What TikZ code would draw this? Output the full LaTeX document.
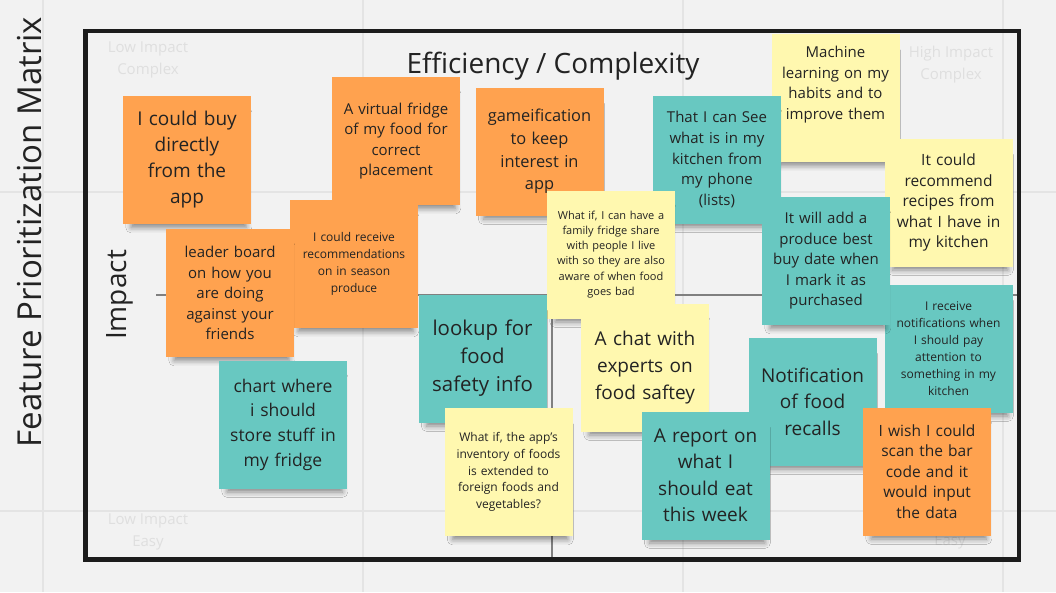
\documentclass[tikz,border=0pt]{standalone}
\usepackage{fontspec}
\setmainfont{Open Sans}
\usetikzlibrary{shadows.blur}

\definecolor{boardbg}{HTML}{F2F2F2}
\definecolor{gridgray}{HTML}{E4E4E4}
\definecolor{faintgray}{HTML}{DFDFDF}
\definecolor{axisgray}{HTML}{808080}
\definecolor{framedark}{HTML}{1C1C1C}
\definecolor{notetext}{HTML}{232323}
\definecolor{noteorange}{HTML}{FFA24F}
\definecolor{noteteal}{HTML}{68C8C1}
\definecolor{noteyellow}{HTML}{FFF8AF}

\newcommand{\notefont}[2]{\fontsize{#1}{#2}\selectfont}

\begin{document}
\begin{tikzpicture}[x=1pt,y=-1pt,
  sticky/.style={minimum width=128pt,minimum height=128pt,inner sep=0pt,
    text width=124pt,align=center,text=notetext,
    blur shadow={shadow xshift=2pt,shadow yshift=-11pt,shadow scale=0.9,shadow blur radius=6pt,shadow opacity=45}},
  orangenote/.style={sticky,fill=noteorange},
  tealnote/.style={sticky,fill=noteteal},
  yellownote/.style={sticky,fill=noteyellow},
  faint/.style={text=faintgray,align=center,font=\notefont{15}{22}},
  heading/.style={text=notetext,font=\notefont{28}{34}}]

\useasboundingbox (0,0) rectangle (1056,592);
\fill[boardbg] (0,0) rectangle (1056,592);

\foreach \gx in {43,363,683,1003}
  \draw[gridgray,line width=2pt] (\gx,0) -- (\gx,592);
\foreach \gy in {192,511}
  \draw[gridgray,line width=2pt] (0,\gy) -- (1056,\gy);

\node[faint] (lowcomplex) at (148,60) {Low Impact\\Complex};
\node[faint] (highcomplex) at (951,65) {High Impact\\Complex};
\node[faint] (loweasy) at (148,532) {Low Impact\\Easy};
\node[faint] (higheasy) at (950,542) {Easy};

\draw[axisgray,line width=2.5pt] (156,295) -- (1017,295);
\draw[axisgray,line width=2.5pt] (552,120) -- (552,557);
\draw[framedark,line width=4.5pt] (85.5,31) rectangle (1019,559.5);

\node[heading] (effort) at (553,66) {Efficiency / Complexity};
\node[heading,rotate=90] (impact) at (120,295) {Impact};
\node[text=notetext,font=\notefont{33}{40},rotate=90] (matrixtitle) at (30,232) {Feature Prioritization Matrix};

\node[orangenote,font=\notefont{15}{20.3}] (virtual) at (396,141) {A virtual fridge\\of my food for\\correct\\placement};
\node[orangenote,font=\notefont{19}{26}] (buy) at (187,160) {I could buy\\directly\\from the\\app};
\node[orangenote,font=\notefont{12}{17}] (season) at (354,264) {I could receive\\recommendations\\on in season\\produce};
\node[orangenote,font=\notefont{15}{20.5}] (leader) at (230,293) {leader board\\on how you\\are doing\\against your\\friends};
\node[tealnote,font=\notefont{17.5}{24.7}] (chart) at (283,424.5) {chart where\\i should\\store stuff in\\my fridge};
\node[orangenote,font=\notefont{16.4}{22.7}] (game) at (539.5,151.5) {gameification\\to keep\\interest in\\app};
\node[yellownote,font=\notefont{15}{20.5}] (machine) at (835.5,98) {Machine\\learning on my\\habits and to\\improve them\\[10pt]\mbox{}};
\node[tealnote,font=\notefont{15}{20.7}] (see) at (717,159.5) {That I can See\\what is in my\\kitchen from\\my phone\\(lists)};
\node[yellownote,font=\notefont{11}{15.2}] (family) at (611,254.5) {What if, I can have a\\family fridge share\\with people I live\\with so they are also\\aware of when food\\goes bad};
\node[yellownote,font=\notefont{15.5}{20.5}] (recipes) at (948.5,202.5) {It could\\recommend\\recipes from\\what I have in\\my kitchen};
\node[tealnote,font=\notefont{12}{17}] (receive) at (948.5,348.5) {I receive\\notifications when\\I should pay\\attention to\\something in my\\kitchen};
\node[tealnote,font=\notefont{15}{20.5}] (produce) at (826,261) {It will add a\\produce best\\buy date when\\I mark it as\\purchased};
\node[tealnote,font=\notefont{20.4}{28}] (lookup) at (482.5,358.5) {lookup for\\food\\safety info};
\node[yellownote,font=\notefont{12}{16.7}] (foreign) at (508.5,472) {What if, the app's\\inventory of foods\\is extended to\\foreign foods and\\vegetables?};
\node[yellownote,font=\notefont{19}{27}] (chat) at (645,367.5) {A chat with\\experts on\\food saftey};
\node[tealnote,font=\notefont{19}{26.5}] (recalls) at (812.5,401.5) {Notification\\of food\\recalls};
\node[tealnote,font=\notefont{19}{26.5}] (report) at (705.5,475.5) {A report on\\what I\\should eat\\this week};
\node[orangenote,font=\notefont{15.5}{20.5}] (scan) at (927,471.5) {I wish I could\\scan the bar\\code and it\\would input\\the data};
\end{tikzpicture}
\end{document}
